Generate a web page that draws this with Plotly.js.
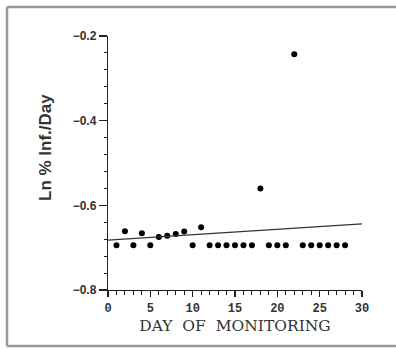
<!DOCTYPE html>
<html><head><meta charset="utf-8">
<script src="https://cdn.plot.ly/plotly-3.0.1.min.js"></script>
<style>html,body{margin:0;padding:0;background:#fff}#c{width:396px;height:349px}</style>
</head><body><div id="c"></div>
<script>
const days = [1,2,3,4,5,6,7,8,9,10,11,12,13,14,15,16,17,18,19,20,21,22,23,24,25,26,27,28];
const lnInf = [-0.694,-0.661,-0.694,-0.666,-0.694,-0.675,-0.672,-0.668,-0.662,-0.694,-0.652,-0.694,-0.694,-0.694,-0.694,-0.694,-0.694,-0.560,-0.694,-0.694,-0.694,-0.243,-0.694,-0.694,-0.694,-0.694,-0.694,-0.694];
const fitX = [0,30];
const fitY = [-0.682,-0.644];
const xTicks = [0,5,10,15,20,25,30];
const yTicks = [-0.8,-0.6,-0.4,-0.2];
const yTickText = ['\u22120.8','\u22120.6','\u22120.4','\u22120.2'];
const xTitle = 'DAY  OF  MONITORING';
const yTitle = 'Ln % Inf./Day';

const traces = [
  {x: days, y: lnInf, mode:'markers', type:'scatter', marker:{color:'#000', size:6}, hoverinfo:'none', cliponaxis:false},
  {x: fitX, y: fitY, mode:'lines', type:'scatter', line:{color:'#333', width:1.2}, hoverinfo:'none'}
];
const px = v => (v-108)/254, py = v => (290-v)/254;
const frame = {color:'#999', width:2.5};
const layout = {
  width:396, height:349,
  margin:{l:108, r:34, t:36, b:59},
  paper_bgcolor:'#fff', plot_bgcolor:'#fff',
  showlegend:false,
  font:{family:'Liberation Sans', color:'#222'},
  xaxis:{range:[0,30], tickvals:xTicks, ticktext:xTicks.map(String), showgrid:false, zeroline:false,
    showline:true, linecolor:'#222', linewidth:1.2, ticks:'outside', ticklen:6, tickcolor:'#222', tickwidth:1.2,
    minor:{dtick:1, ticks:'outside', ticklen:4, tickcolor:'#222', tickwidth:1, showgrid:false},
    tickfont:{family:'Liberation Mono', size:12, weight:'bold', color:'#333'},
    title:{text:xTitle, font:{family:'DejaVu Serif', size:15.5, color:'#333'}, standoff:5}},
  yaxis:{range:[-0.8,-0.2], tickvals:yTicks, ticktext:yTickText, showgrid:false, zeroline:false,
    showline:true, linecolor:'#222', linewidth:1.2, ticks:'outside', ticklen:8, tickcolor:'#222', tickwidth:1.2,
    minor:{dtick:0.04, ticks:'outside', ticklen:3, tickcolor:'#222', tickwidth:1, showgrid:false},
    tickfont:{family:'Liberation Sans', size:12, weight:'bold', color:'#333'}},
  annotations:[{text:yTitle, xref:'paper', yref:'paper', x:px(45), y:py(148), xanchor:'center', yanchor:'middle',
    textangle:-90, showarrow:false, font:{family:'Liberation Sans', size:17, weight:'bold', color:'#333'}}],
  shapes:[
    {type:'line', xref:'paper', yref:'paper', x0:px(7), x1:px(7), y0:py(346), y1:py(7), line:frame, layer:'below'},
    {type:'line', xref:'paper', yref:'paper', x0:px(7), x1:px(396), y0:py(7), y1:py(7), line:frame, layer:'below'},
    {type:'line', xref:'paper', yref:'paper', x0:px(7), x1:px(396), y0:py(346), y1:py(346), line:frame, layer:'below'}
  ]
};
Plotly.newPlot('c', traces, layout, {staticPlot:true, displayModeBar:false});
</script></body></html>
